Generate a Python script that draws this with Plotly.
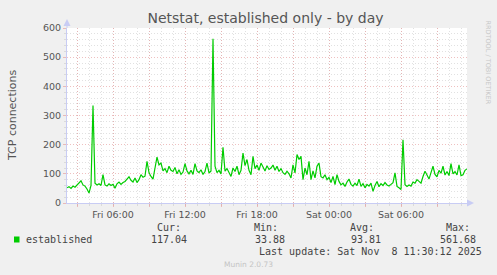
import plotly.graph_objects as go
import pandas as pd

# ---- data (10-minute samples, Fri 2025-11-07 02:10 .. Sat 2025-11-08 11:30) ----
start_time = "2025-11-07 02:10"
sample_step = "10min"
established = [
    52, 56, 50, 58, 54, 62,
    70, 76, 62, 58, 48, 34,
    60, 334, 68, 62, 66, 60,
    97, 62, 58, 66, 60, 64,
    51, 66, 72, 64, 70, 74,
    82, 90, 78, 72, 86, 70,
    80, 97, 88, 92, 143, 104,
    91, 82, 120, 157, 131, 137,
    110, 118, 104, 126, 112, 108,
    122, 100, 114, 98, 106, 135,
    110, 100, 112, 98, 135, 110,
    104, 114, 98, 108, 137, 103,
    110, 563, 126, 104, 112, 100,
    191, 109, 118, 104, 91, 120,
    108, 126, 97, 112, 171, 128,
    149, 112, 97, 160, 118, 130,
    112, 137, 124, 110, 128, 115,
    120, 130, 112, 126, 108, 118,
    104, 98, 109, 100, 86, 131,
    103, 166, 149, 160, 80, 120,
    97, 143, 80, 110, 86, 126,
    137, 90, 86, 97, 80, 88,
    70, 91, 63, 97, 74, 62,
    68, 57, 72, 82, 64, 58,
    68, 60, 82, 57, 66, 52,
    64, 58, 68, 40, 60, 74,
    56, 66, 60, 70, 62, 58,
    64, 70, 103, 57, 52, 46,
    217, 63, 57, 62, 58, 72,
    68, 80, 74, 68, 91, 109,
    96, 82, 104, 126, 98, 90,
    112, 102, 126, 96, 108, 94,
    135, 100, 108, 96, 131, 94,
    97, 112, 117,
]
series_name = "established"
stat_labels = ["Cur:", "Min:", "Avg:", "Max:"]
stat_values = ["117.04", "33.88", "93.81", "561.68"]
title_text = "Netstat, established only - by day"
y_title = "TCP connections"
last_update = "Last update: Sat Nov  8 11:30:12 2025"
footer = "Munin 2.0.73"
side_text = "RRDTOOL / TOBI OETIKER"
y_max = 600

times = pd.date_range(start_time, periods=len(established), freq=sample_step)

# ---- layout geometry ----
W, H = 497, 275
L, R, T, B = 67, 30, 28, 72
PW, PH = W - L - R, H - T - B

def px(x):
    return (x - L) / PW

def py(y):
    return (H - B - y) / PH

MAJOR = "rgba(228,150,150,0.6)"
MINOR = "rgba(200,200,200,0.55)"
AXIS = "#C8CCF4"
TXT = "#555555"
MONO = "DejaVu Sans Mono"
SANS = "DejaVu Sans"

fig = go.Figure()
fig.add_trace(go.Scatter(
    x=times, y=established, mode="lines", name=series_name,
    line=dict(color="#00CC00", width=1.2), showlegend=False,
))

major_ticks = pd.date_range(times[0].ceil("3h"), times[-1], freq="3h")
major_text = [t.strftime("%a %H:%M") if t.hour % 6 == 0 else "" for t in major_ticks]

fig.update_xaxes(
    range=[times[0], times[-1]],
    tickmode="array", tickvals=major_ticks, ticktext=major_text,
    showgrid=True, gridcolor=MAJOR, griddash="1px,2px", gridwidth=1,
    ticks="outside", ticklen=3, tickcolor=MAJOR,
    minor=dict(tickmode="linear", tick0="2025-11-07 00:00", dtick=3600000,
               showgrid=True, gridcolor=MINOR, griddash="1px,2px", gridwidth=1,
               ticks="outside", ticklen=2, tickcolor=MINOR),
    showline=True, linecolor=AXIS, linewidth=1,
    tickfont=dict(family=SANS, size=9.5, color=TXT),
    zeroline=False, fixedrange=True,
)
fig.update_yaxes(
    range=[0, y_max], tick0=0, dtick=100,
    showgrid=True, gridcolor=MAJOR, griddash="1px,2px", gridwidth=1,
    ticks="outside", ticklen=3, tickcolor=MAJOR,
    minor=dict(dtick=20, showgrid=True, gridcolor=MINOR, griddash="1px,2px",
               gridwidth=1, ticks="outside", ticklen=2, tickcolor=MINOR),
    showline=True, linecolor=AXIS, linewidth=1,
    tickfont=dict(family=SANS, size=9.5, color=TXT),
    zeroline=False, fixedrange=True,
)

# axis arrows
fig.add_shape(type="path", xref="paper", yref="paper",
              path=f"M {px(L-3.5)} {py(26)} L {px(L)} {py(19)} L {px(L+3.5)} {py(26)} Z",
              fillcolor=AXIS, line=dict(width=0))
fig.add_shape(type="line", xref="paper", yref="paper",
              x0=0, x1=0, y0=1, y1=py(26), line=dict(color=AXIS, width=1))
fig.add_shape(type="path", xref="paper", yref="paper",
              path=f"M {px(W-R)} {py(199.5)} L {px(W-R+7)} {py(H-B)} L {px(W-R)} {py(206.5)} Z",
              fillcolor=AXIS, line=dict(width=0))

# legend square
fig.add_shape(type="rect", xref="paper", yref="paper",
              x0=px(14), x1=px(19.5), y0=py(236.5), y1=py(242.5),
              fillcolor="#00CC00", line=dict(width=0))

ann = []
def text(x, y, s, anchor="left", size=10, family=MONO, color="#444444", angle=0):
    ann.append(dict(x=px(x), y=py(y), xref="paper", yref="paper", text=s,
                    showarrow=False, xanchor=anchor, yanchor="middle",
                    textangle=angle, borderpad=0,
                    font=dict(family=family, size=size, color=color)))

text(25, 239.5, series_name)
label_right = [181.5, 278.5, 374.5, 470.5]
value_right = [188, 285.5, 381.5, 477]
for lbl, val, lr, vr in zip(stat_labels, stat_values, label_right, value_right):
    text(lr, 227.3, lbl, anchor="right")
    text(vr, 239.5, val, anchor="right")
text(482.5, 251.7, last_update, anchor="right")
text(248, 264, footer, anchor="center", size=7.5, family=SANS, color="#C4C4C4")
text(12, 115, y_title, anchor="center", size=11, family=SANS, color=TXT, angle=-90)
text(487.5, 62, side_text, anchor="center", size=6.5, family=SANS, color="#C8C8C8", angle=90)

fig.update_layout(
    width=W, height=H,
    margin=dict(l=L, r=R, t=T, b=B, pad=0),
    paper_bgcolor="#F0F0F0", plot_bgcolor="#FFFFFF",
    title=dict(text=title_text, x=265.5 / W, xref="container", xanchor="center",
               y=1 - 18 / H, yref="container", yanchor="middle",
               font=dict(family=SANS, size=14, color=TXT)),
    annotations=ann,
    showlegend=False,
)

fig.write_html("out.html", config={"displayModeBar": False})
